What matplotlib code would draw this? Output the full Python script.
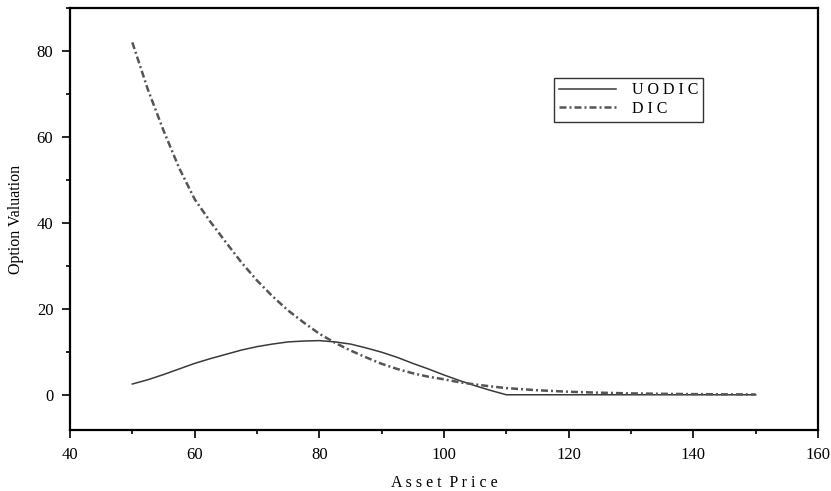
import matplotlib
matplotlib.use("Agg")
import matplotlib.pyplot as plt
from matplotlib.ticker import MultipleLocator

asset_price = [50, 52.5, 55, 57.5, 60, 62.5, 65, 67.5, 70, 72.5, 75, 77.5, 80,
               82.5, 85, 87.5, 90, 92.5, 95, 97.5, 100, 102.5, 105, 107.5, 110,
               115, 120, 125, 130, 135, 140, 145, 150]
uodic = [2.5, 3.5, 4.7, 6.0, 7.3, 8.4, 9.4, 10.4, 11.2, 11.8, 12.3, 12.5, 12.6,
         12.3, 11.8, 10.9, 9.9, 8.7, 7.3, 6.0, 4.6, 3.3, 2.1, 1.0, 0.0,
         0.0, 0.0, 0.0, 0.0, 0.0, 0.0, 0.0, 0.0]
dic = [82.0, 71.0, 61.5, 52.8, 45.5, 40.3, 35.5, 30.8, 26.6, 22.9, 19.6, 16.8, 14.2,
       12.1, 10.3, 8.7, 7.2, 6.0, 5.0, 4.2, 3.6, 2.9, 2.4, 1.95, 1.55,
       1.05, 0.7, 0.48, 0.32, 0.22, 0.15, 0.1, 0.07]

plt.rcParams['font.family'] = ['Liberation Serif', 'DejaVu Serif']

fig = plt.figure(figsize=(8.31, 4.91), dpi=100)
ax = fig.add_axes([70/831, 1 - 430/491, 748/831, 422/491])

ax.plot(asset_price, uodic, color='#3a3a3a', lw=1.1, label='U O D I C')
ax.plot(asset_price, dic, color='#555555', lw=1.8, linestyle=(0, (2.8, 1.2, 0.8, 1.2)),
        label='D I C')

ax.set_xlim(40, 160)
ax.set_ylim(-8.2, 90)
ax.xaxis.set_major_locator(MultipleLocator(20))
ax.xaxis.set_minor_locator(MultipleLocator(10))
ax.yaxis.set_major_locator(MultipleLocator(20))
ax.yaxis.set_minor_locator(MultipleLocator(10))
ax.tick_params(which='major', direction='out', length=6, width=1.2, labelsize=12,
               top=False, right=False, pad=6)
ax.tick_params(which='minor', direction='out', length=3, width=1.2,
               top=False, right=False)
for s in ax.spines.values():
    s.set_linewidth(1.6)

ax.set_xlabel('A s s e t  P r i c e', fontsize=11.5, labelpad=9)
ax.set_ylabel('Option Valuation', fontsize=11.5, labelpad=9)

leg = ax.legend(loc='upper left', bbox_to_anchor=(0.647, 0.835), frameon=True,
                fancybox=False, edgecolor='black', fontsize=11.5,
                handlelength=3.6, borderpad=0.3, labelspacing=0.15,
                handletextpad=1.0, borderaxespad=0)
leg.get_frame().set_linewidth(1.0)

fig.savefig('out.png', dpi=100)
